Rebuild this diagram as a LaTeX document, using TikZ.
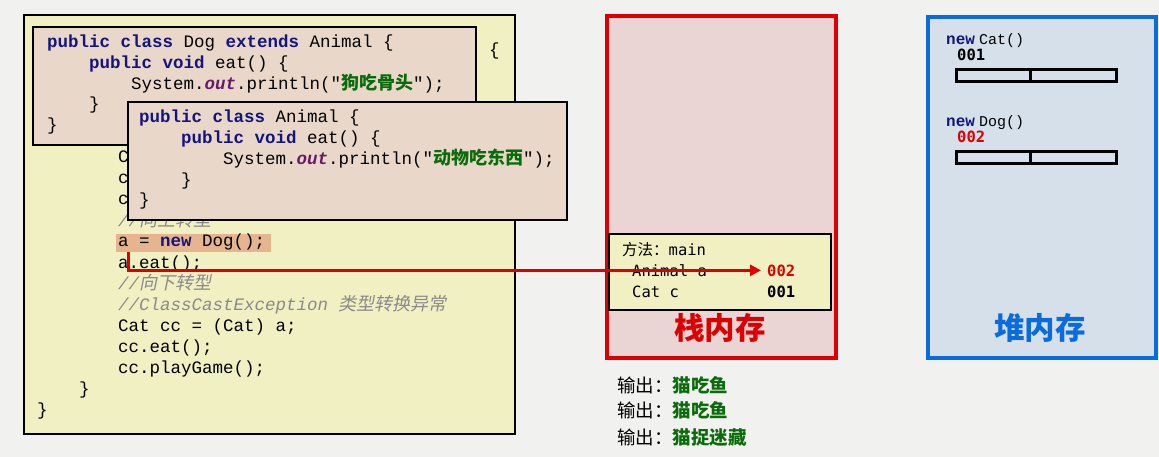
\documentclass[tikz,border=0pt]{standalone}
\usepackage{fontspec}
\setmonofont{Liberation Mono}
\newfontfamily\cjk{Noto Sans CJK SC}
\newfontfamily\cjkit{Noto Sans CJK SC}[FakeSlant=0.2]
\newfontfamily\smono{DejaVu Sans Mono}
\usetikzlibrary{arrows.meta}
\definecolor{bgcol}{HTML}{F1F2EF}
\definecolor{codeyel}{HTML}{F0F0C2}
\definecolor{beige}{HTML}{E9D8C9}
\definecolor{hlcol}{HTML}{E6B48E}
\definecolor{kwblue}{HTML}{14147F}
\definecolor{outpur}{HTML}{661A66}
\definecolor{strgreen}{HTML}{0B6B0B}
\definecolor{cmt}{HTML}{8A8A8A}
\definecolor{stackred}{HTML}{DD0000}
\definecolor{stackfill}{HTML}{EBD4D4}
\definecolor{heapblue}{HTML}{0A6CDC}
\definecolor{heapfill}{HTML}{D5E0EB}
\newcommand\kw[1]{\textcolor{kwblue}{\textbf{#1}}}
\newcommand\outf{\textcolor{outpur}{\textbf{\textit{out}}}}
\newcommand\zhstr[1]{\textcolor{strgreen}{\cjk\bfseries\fontsize{18}{21}\selectfont #1}}
\newcommand\zhcmt[1]{\textcolor{cmt}{\textit{//}{\cjkit\fontsize{18}{21}\selectfont #1}}}
\newcommand\heapnew[1]{\kw{\fontsize{16}{19}\selectfont new}\hspace{4pt}{\fontsize{15}{19}\selectfont #1}}
\tikzset{
  code/.style={anchor=base west, inner sep=0pt, font=\ttfamily\fontsize{17.5}{21}\selectfont},
  frame/.style={anchor=north west, inner sep=0pt, draw=black, line width=2pt},
  mem/.style={anchor=base west, inner sep=0pt, font=\smono\fontsize{15.5}{19}\selectfont},
  memval/.style={mem, font=\smono\bfseries\fontsize{15.5}{19}\selectfont},
  bigtitle/.style={inner sep=0pt, font=\cjk\bfseries\fontsize{30.5}{34}\selectfont},
  outline/.style={anchor=base west, inner sep=0pt, font=\cjk\fontsize{18.5}{22}\selectfont},
  cell/.style={draw=black, line width=3pt, fill=heapfill},
}
\begin{document}
\begin{tikzpicture}[x=1pt, y=-1pt]
\useasboundingbox (0,0) rectangle (1159,457);
\fill[bgcol] (0,0) rectangle (1159,457);
\node[frame, fill=codeyel, minimum width=491pt, minimum height=419pt] (codebox) at (23,14) {};
\node[code] (l_brace) at (489,56) {\{};
\node[code] (l_c1) at (118,163) {C};
\node[code] (l_c2) at (118,184) {c};
\node[code] (l_c3) at (118,205) {c};
\node[code] (l_up) at (118,226) {\zhcmt{向上转型}};
\node[anchor=north west, inner sep=0pt, fill=hlcol, minimum width=155pt, minimum height=18pt] (hl) at (116,234) {};
\node[code] (l_new) at (118,247) {a = \kw{new} Dog();};
\node[code] (l_eat) at (118,268) {a.eat();};
\node[code] (l_down) at (118,289) {\zhcmt{向下转型}};
\node[code] (l_cce) at (118,310) {\textcolor{cmt}{\textit{//ClassCastException }{\cjkit\fontsize{18}{21}\selectfont 类型转换异常}}};
\node[code] (l_cast) at (118,331) {Cat cc = (Cat) a;};
\node[code] (l_cceat) at (118,352) {cc.eat();};
\node[code] (l_play) at (118,373) {cc.playGame();};
\node[code] (l_end1) at (79,394) {\}};
\node[code] (l_end2) at (37,415) {\}};
\node[frame, fill=beige, minimum width=443pt, minimum height=118pt] (dogbox) at (32,26) {};
\node[code] (d_1) at (47,48) {\kw{public} \kw{class} Dog \kw{extends} Animal \{};
\node[code] (d_2) at (89,69) {\kw{public} \kw{void} eat() \{};
\node[code] (d_3) at (131,90) {System.\outf.println("\zhstr{狗吃骨头}");};
\node[code] (d_4) at (89,110) {\}};
\node[code] (d_5) at (47,131) {\}};
\node[frame, fill=beige, minimum width=439pt, minimum height=118pt] (animalbox) at (127,101) {};
\node[code] (an_1) at (139,123) {\kw{public} \kw{class} Animal \{};
\node[code] (an_2) at (181,144) {\kw{public} \kw{void} eat() \{};
\node[code] (an_3) at (223,165) {System.\outf.println("\zhstr{动物吃东西}");};
\node[code] (an_4) at (181,186) {\}};
\node[code] (an_5) at (139,206) {\}};
\node[anchor=north west, inner sep=0pt, draw=stackred, line width=4pt, fill=stackfill, minimum width=229pt, minimum height=342pt] (stack) at (605,14) {};
\node[frame, fill=codeyel, minimum width=222pt, minimum height=76pt] (frame_main) at (608,233) {};
\node[mem] (s_main) at (622,255) {{\cjk 方法：}main};
\node[mem] (s_a) at (632,276) {Animal a};
\node[mem] (s_c) at (632,297) {Cat c};
\node[memval, text=stackred] (v002) at (767,276) {002};
\node[memval] (v001) at (767,297) {001};
\node[bigtitle, text=stackred] (stacktitle) at (720,328) {栈内存};
\node[anchor=north west, inner sep=0pt, draw=heapblue, line width=4pt, fill=heapfill, minimum width=228pt, minimum height=341pt] (heap) at (926,15) {};
\node[anchor=base west, inner sep=0pt, font=\ttfamily] (h_cat) at (946,45) {\heapnew{Cat()}};
\node[memval] (h_001) at (957,61) {001};
\draw[cell] (956,70) rectangle (1030,82) (1030,70) rectangle (1116,82);
\node[anchor=base west, inner sep=0pt, font=\ttfamily] (h_dog) at (946,127) {\heapnew{Dog()}};
\node[memval, text=stackred] (h_002) at (957,143) {002};
\draw[cell] (956,152) rectangle (1030,164) (1030,152) rectangle (1116,164);
\node[bigtitle, text=heapblue] (heaptitle) at (1040,328) {堆内存};
\node[outline] (out_1) at (617,392) {输出：\textcolor{strgreen}{\bfseries 猫吃鱼}};
\node[outline] (out_2) at (617,417) {输出：\textcolor{strgreen}{\bfseries 猫吃鱼}};
\node[outline] (out_3) at (617,444) {输出：\textcolor{strgreen}{\bfseries 猫捉迷藏}};
\draw[stackred, line width=3pt, -{Triangle[length=11pt, width=11pt]}] ([xshift=12pt]hl.south west) |- ([xshift=-6pt]v002.west);
\end{tikzpicture}
\end{document}
